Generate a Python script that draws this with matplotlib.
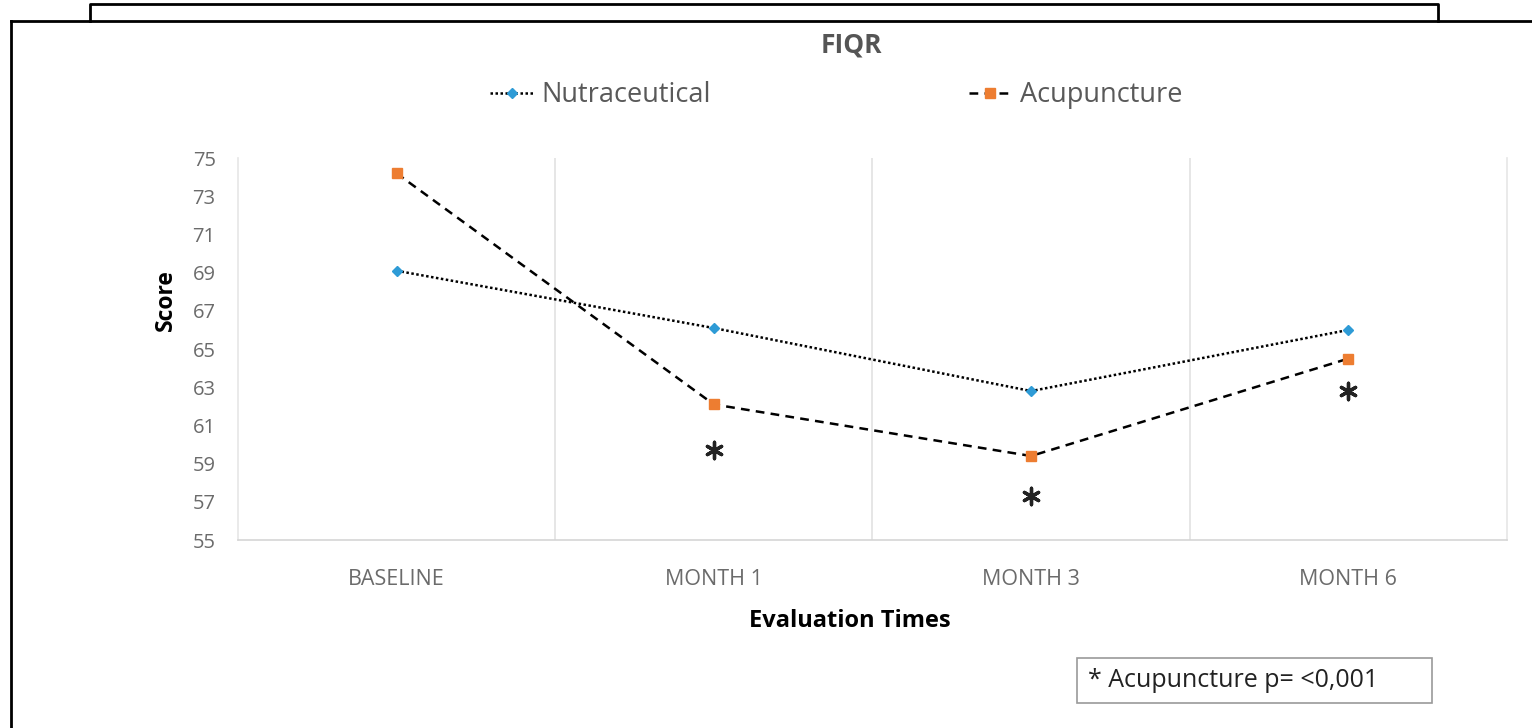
import matplotlib
matplotlib.use("Agg")
import matplotlib.pyplot as plt
from matplotlib.lines import Line2D
from matplotlib.patches import Rectangle

# data
times = ["BASELINE", "MONTH 1", "MONTH 3", "MONTH 6"]
nutraceutical = [69.1, 66.1, 62.8, 66.0]
acupuncture = [74.2, 62.1, 59.4, 64.5]
star_idx = [1, 2, 3]
star_y = [59.7, 57.3, 62.8]
yticks = list(range(55, 76, 2))

plt.rcParams['font.family'] = ['Open Sans', 'DejaVu Sans']

fig = plt.figure(figsize=(15.32, 7.28), dpi=100)
ax = fig.add_axes([0.1553, 0.2582, 0.8284, 0.5247])

x = list(range(len(times)))
ax.plot(x, nutraceutical, color='black', linestyle=(0, (1, 1)), linewidth=1.8,
        marker='D', markersize=5, markerfacecolor='#2e9bd6', markeredgecolor='#2e9bd6',
        label='Nutraceutical')
ax.plot(x, acupuncture, color='black', linestyle=(0, (3.5, 2.5)), linewidth=1.8,
        marker='s', markersize=6.5, markerfacecolor='#ed7d31', markeredgecolor='#ed7d31',
        label='Acupuncture')

# significance marks
ax.scatter(star_idx, star_y, marker=(6, 2, 0), s=140, color='#222222', linewidths=2.4)

ax.set_xlim(-0.5, 3.5)
ax.set_ylim(55, 75)
ax.set_yticks(yticks)
ax.set_xticks(x)
ax.set_xticklabels(times)
ax.tick_params(axis='y', length=0, labelsize=14.5, labelcolor='#6b6b6b', pad=16)
ax.tick_params(axis='x', length=0, labelsize=15.5, labelcolor='#6b6b6b', pad=21)

for b in [0.5, 1.5, 2.5]:
    ax.axvline(b, color='#e2e2e2', linewidth=1.2, zorder=0)
ax.spines['top'].set_visible(False)
for s in ['left', 'right']:
    ax.spines[s].set_color('#e6e6e6')
    ax.spines[s].set_linewidth(1.2)
ax.spines['bottom'].set_color('#d5d5d5')
ax.spines['bottom'].set_linewidth(1.2)

ax.set_xlabel("Evaluation Times", fontsize=17, fontweight='bold')
ax.xaxis.set_label_coords(0.482, -0.18)
ax.set_ylabel("Score", fontsize=16.5, fontweight='bold')
ax.yaxis.set_label_coords(-0.047, 0.628)

fig.text(0.556, 0.938, "FIQR", fontsize=19, fontweight='bold', color='#555555',
         ha='center', va='center')

fig.legend(loc='center', bbox_to_anchor=(0.546, 0.869), ncol=2, frameon=False,
           fontsize=19.5, handlelength=1.6, handletextpad=0.3, columnspacing=9.5,
           labelcolor='#595959')

# frame lines around the figure
fig.add_artist(Line2D([0.0072, 1.0], [0.9712, 0.9712], color='black', linewidth=2))
fig.add_artist(Line2D([0.0072, 0.0072], [0.0, 0.9712], color='black', linewidth=2))
fig.add_artist(Line2D([0.0587, 0.0587, 0.9386, 0.9386], [0.9712, 0.9945, 0.9945, 0.9712],
                      color='black', linewidth=2))

# note box
fig.add_artist(Rectangle((0.7030, 0.0343), 0.2317, 0.0618, transform=fig.transFigure,
                         fill=False, edgecolor='#9a9a9a', linewidth=1.2))
fig.text(0.7100, 0.0652, "* Acupuncture p= <0,001", fontsize=18, color='#222222',
         ha='left', va='center')

fig.savefig("out.png", dpi=100)
